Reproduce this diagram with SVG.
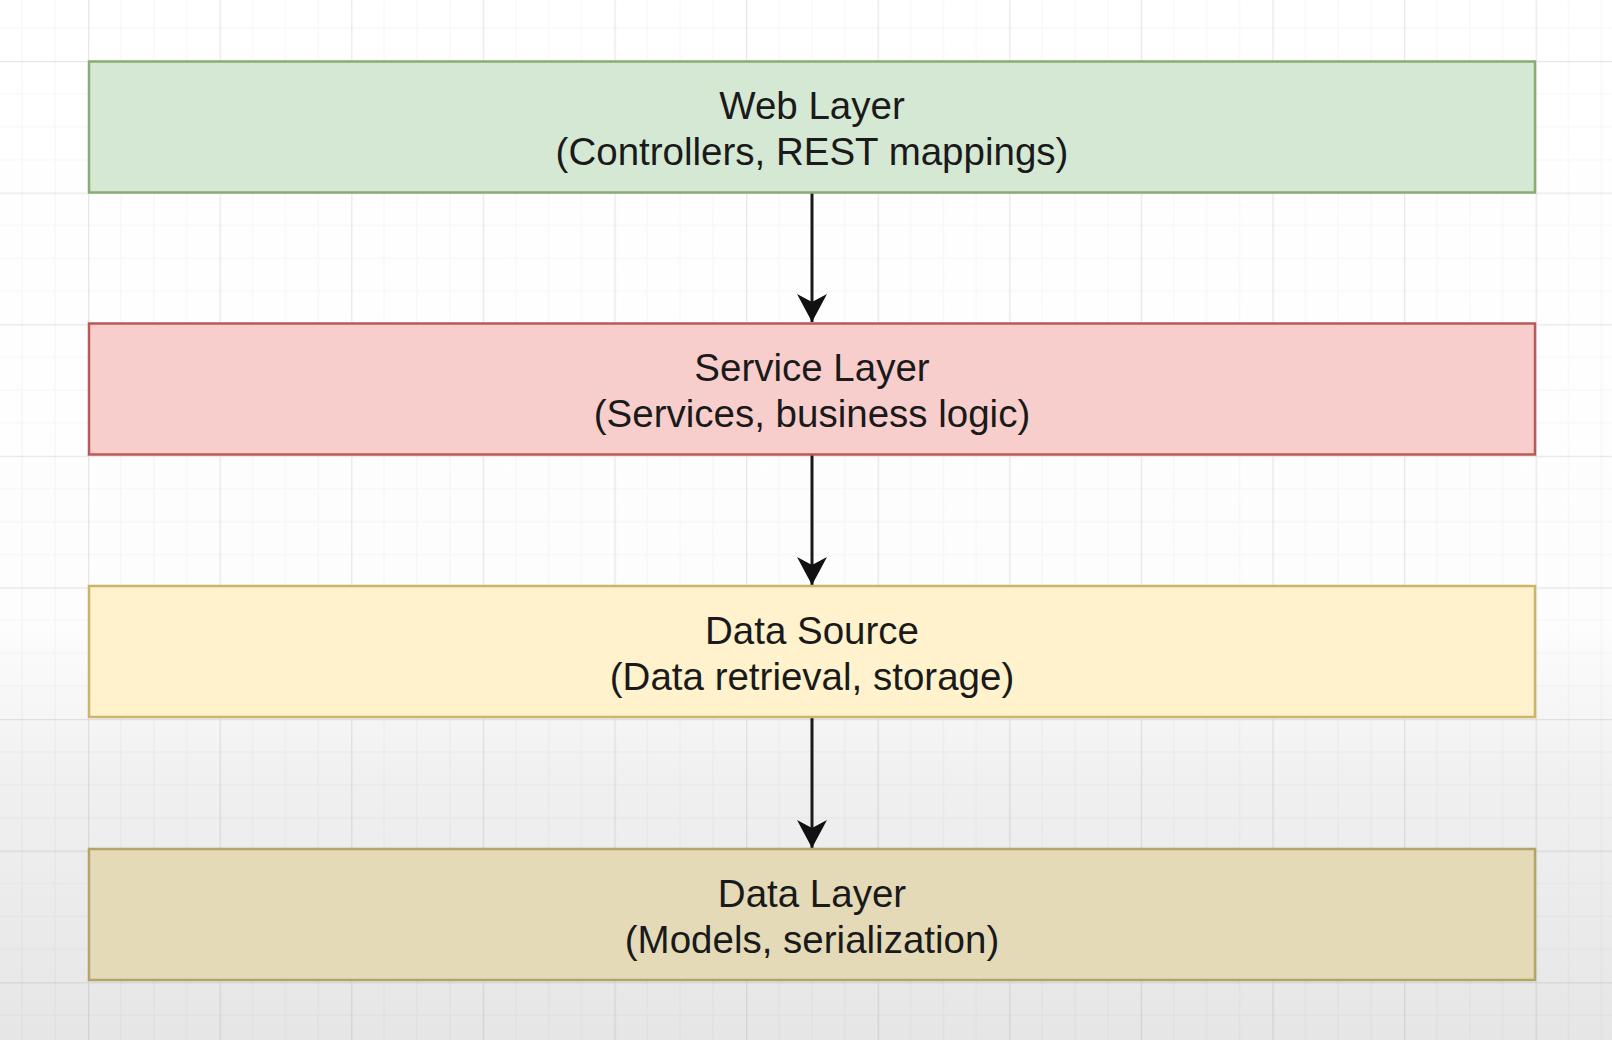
<svg xmlns="http://www.w3.org/2000/svg" width="1612" height="1040" viewBox="0 0 1612 1040">
<defs>
<style>
.lbl{font-family:"Liberation Sans",Arial,Helvetica,sans-serif;font-size:38.5px;fill:#1a1a1a;text-anchor:middle}
.conn{stroke:#1a1a1a;stroke-width:3;fill:none}
.box{stroke-width:2.5}
</style>
<linearGradient id="bg" x1="0" y1="0" x2="0" y2="1">
<stop offset="0" stop-color="#ffffff"/>
<stop offset="0.6" stop-color="#fdfdfd"/>
<stop offset="0.75" stop-color="#f0f0f0"/>
<stop offset="1" stop-color="#e6e6e6"/>
</linearGradient>
<pattern id="grid" x="88" y="61" width="131.6" height="131.6" patternUnits="userSpaceOnUse">
<path d="M32.9 0V131.6M65.8 0V131.6M98.7 0V131.6M0 32.9H131.6M0 65.8H131.6M0 98.7H131.6" stroke="#000" stroke-opacity="0.035" stroke-width="1" fill="none"/>
<path d="M0.5 0V131.6M0 0.5H131.6" stroke="#000" stroke-opacity="0.09" stroke-width="1.5" fill="none"/>
</pattern>
<marker id="arr" markerUnits="userSpaceOnUse" markerWidth="32" markerHeight="32" viewBox="0 0 32 32" refX="28" refY="16" orient="auto">
<path d="M0 1 L28 16 L0 31 L8 16 Z" fill="#111"/>
</marker>
</defs>
<rect width="1612" height="1040" fill="url(#bg)"/>
<rect width="1612" height="1040" fill="url(#grid)"/>
<g id="connectors">
<line class="conn" x1="812" y1="192" x2="812" y2="322" marker-end="url(#arr)"/>
<line class="conn" x1="812" y1="455" x2="812" y2="585" marker-end="url(#arr)"/>
<line class="conn" x1="812" y1="718" x2="812" y2="848" marker-end="url(#arr)"/>
</g>
<g id="web-layer">
<rect class="box" x="89" y="61.5" width="1446" height="131" fill="#d5e8d4" stroke="#8aab72"/>
<text class="lbl" x="812" y="119">Web Layer</text>
<text class="lbl" x="812" y="165">(Controllers, REST mappings)</text>
</g>
<g id="service-layer">
<rect class="box" x="89" y="323.5" width="1446" height="131" fill="#f8cecc" stroke="#b85a56"/>
<text class="lbl" x="812" y="381">Service Layer</text>
<text class="lbl" x="812" y="427">(Services, business logic)</text>
</g>
<g id="data-source">
<rect class="box" x="89" y="586" width="1446" height="131" fill="#fff2cc" stroke="#cdb46a"/>
<text class="lbl" x="812" y="643.5">Data Source</text>
<text class="lbl" x="812" y="689.5">(Data retrieval, storage)</text>
</g>
<g id="data-layer">
<rect class="box" x="89" y="849" width="1446" height="131" fill="#e4dab8" stroke="#b3a56a"/>
<text class="lbl" x="812" y="906.5">Data Layer</text>
<text class="lbl" x="812" y="952.5">(Models, serialization)</text>
</g>
</svg>
